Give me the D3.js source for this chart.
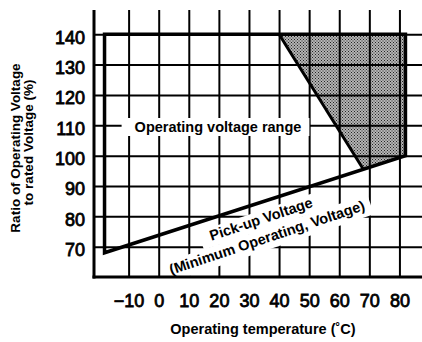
<!DOCTYPE html>
<html><head><meta charset="utf-8">
<script src="https://cdn.jsdelivr.net/npm/d3@7"></script>
<style>body{margin:0;background:#fff} svg{display:block}</style>
</head><body><svg id="c" width="422" height="342"></svg>
<script>
const xTicks = [-10, 0, 10, 20, 30, 40, 50, 60, 70, 80];
const yTicks = [70, 80, 90, 100, 110, 120, 130, 140];
const rangeTemp = [-18, 82];
const rangeMaxRatio = 140;
const pickupTemp = [-18, 82];
const pickupRatio = [68, 100];
const shadedTemp = [40, 82, 82, 68];
const shadedRatio = [140, 140, 100, 95.5];
const xTitle = "Operating temperature (˚C)";
const yTitle = ["Ratio of Operating Voltage", "to rated Voltage (%)"];
const rangeLabel = "Operating voltage range";
const pickupLabel = ["Pick-up Voltage", "(Minimum Operating, Voltage)"];

const FONT = "'Liberation Sans', Arial, Helvetica, sans-serif";
const svg = d3.select("#c");
const x = d3.scaleLinear().domain([-21.5, 87.5]).range([94, 422]);
const y = d3.scaleLinear().domain([60, 148]).range([277, 10]);

// halftone pattern
const defs = svg.append("defs");
const pat = defs.append("pattern").attr("id", "ht").attr("patternUnits", "userSpaceOnUse")
  .attr("width", 3).attr("height", 3);
pat.append("rect").attr("width", 3).attr("height", 3).attr("fill", "#b4b4b4");
pat.append("rect").attr("x", 0).attr("y", 0).attr("width", 1).attr("height", 1).attr("fill", "#222");
pat.append("rect").attr("x", 1.5).attr("y", 1.5).attr("width", 1).attr("height", 1).attr("fill", "#222");

const gShade = svg.append("g");
const gGrid = svg.append("g");
const gBg = svg.append("g");
const gEnv = svg.append("g");
const gAxis = svg.append("g");
const gText = svg.append("g");

// shaded region
const shadePts = shadedTemp.map((t, i) => [x(t), y(shadedRatio[i])]);
gShade.append("path").attr("d", d3.line()(shadePts) + "Z").attr("fill", "url(#ht)");

// grid lines
gGrid.append("g").attr("transform", `translate(0,${y.range()[0]})`)
  .call(d3.axisBottom(x).tickValues(xTicks).tickSize(-(y.range()[0] - y.range()[1])).tickFormat(""));
gGrid.append("g").attr("transform", `translate(${x.range()[0]},0)`)
  .call(d3.axisLeft(y).tickValues(yTicks).tickSize(-(x.range()[1] - x.range()[0])).tickFormat(""));
gGrid.selectAll(".domain").remove();
gGrid.selectAll(".tick line").attr("stroke", "#000").attr("stroke-width", 2);

// envelope
const env = [
  [x(rangeTemp[0]), y(pickupRatio[0])],
  [x(rangeTemp[0]), y(rangeMaxRatio)],
  [x(rangeTemp[1]), y(rangeMaxRatio)],
  [x(rangeTemp[1]), y(pickupRatio[1])]
];
gEnv.append("path").attr("d", d3.line()(env) + "Z").attr("fill", "none")
  .attr("stroke", "#000").attr("stroke-width", 3.5).attr("stroke-linejoin", "miter");
gEnv.append("line")
  .attr("x1", x(shadedTemp[0])).attr("y1", y(shadedRatio[0]))
  .attr("x2", x(shadedTemp[3])).attr("y2", y(shadedRatio[3]))
  .attr("stroke", "#000").attr("stroke-width", 3);

// axes
gAxis.append("line").attr("x1", x.range()[0]).attr("x2", x.range()[0])
  .attr("y1", y.range()[1]).attr("y2", y.range()[0] + 1.5).attr("stroke", "#000").attr("stroke-width", 3);
gAxis.append("line").attr("x1", x.range()[0] - 1.5).attr("x2", x.range()[1])
  .attr("y1", y.range()[0]).attr("y2", y.range()[0]).attr("stroke", "#000").attr("stroke-width", 3);

// tick labels
const yl = gText.append("g").attr("transform", `translate(${x.range()[0]},0)`)
  .call(d3.axisLeft(y).tickValues(yTicks).tickSize(0).tickPadding(9));
const xl = gText.append("g").attr("transform", `translate(0,${y.range()[0]})`)
  .call(d3.axisBottom(x).tickValues(xTicks).tickSize(0).tickPadding(17));
gText.selectAll(".domain").remove();
[yl, xl].forEach(g => g.selectAll("text").attr("font-family", FONT).attr("font-size", 18)
  .attr("fill", "#000").attr("stroke", "#000").attr("stroke-width", 0.8));
yl.selectAll("text").attr("dy", "0.5em");

// titles
gText.append("text").attr("x", 263).attr("y", 334).attr("text-anchor", "middle")
  .attr("font-family", FONT).attr("font-size", 14.5).attr("font-weight", "bold").text(xTitle);
gText.append("text").attr("transform", "translate(20,148) rotate(-90)").attr("text-anchor", "middle")
  .attr("font-family", FONT).attr("font-size", 13.5).attr("font-weight", "bold").text(yTitle[0]);
gText.append("text").attr("transform", "translate(33,142.5) rotate(-90)").attr("text-anchor", "middle")
  .attr("font-family", FONT).attr("font-size", 13.5).attr("font-weight", "bold").text(yTitle[1]);

// annotation labels with blank backgrounds
function label(tx, ty, angle, str, pad) {
  const g = gText.append("g").attr("transform", `translate(${tx},${ty}) rotate(${angle})`);
  const t = g.append("text").attr("text-anchor", "middle").attr("dominant-baseline", "central")
    .attr("font-family", FONT).attr("font-size", 14.5).attr("font-weight", "bold").text(str);
  const b = t.node().getBBox();
  gBg.append("rect").attr("transform", `translate(${tx},${ty}) rotate(${angle})`)
    .attr("x", b.x - pad[3]).attr("y", b.y - pad[0])
    .attr("width", b.width + pad[1] + pad[3]).attr("height", b.height + pad[0] + pad[2])
    .attr("fill", "#fff");
}
label(218, 127, 0, rangeLabel, [1, 8, 1, 13]);
label(261, 219, -18.5, pickupLabel[0], [0, 12, 3, 10]);
label(267, 237.5, -18.5, pickupLabel[1], [1, 6, 4, 6]);
</script></body></html>
